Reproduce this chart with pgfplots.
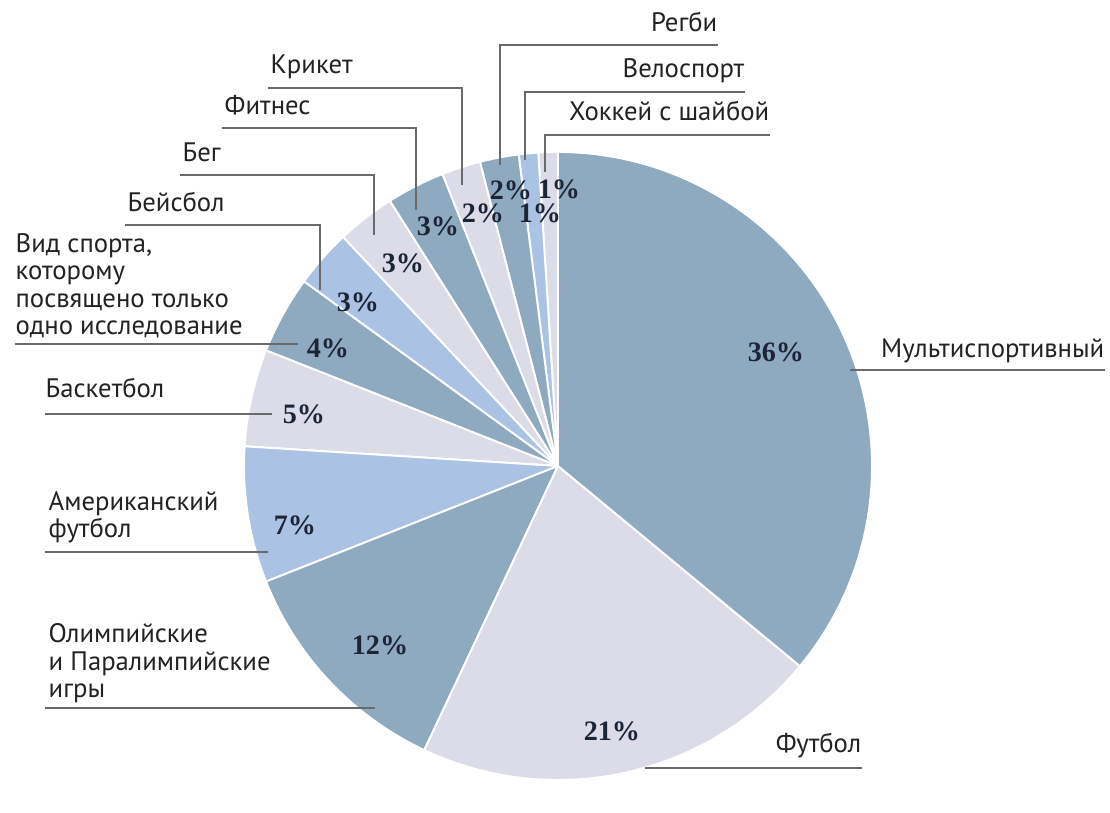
\documentclass[border=0pt]{standalone}
\usepackage{fontspec}
\setmainfont{PT Sans}
\newfontfamily\pctfont{Liberation Serif}
\usepackage{pgfplots}
\pgfplotsset{compat=1.18}
\definecolor{cS}{HTML}{8EAAC0}
\definecolor{cL}{HTML}{DCDCE8}
\definecolor{cB}{HTML}{AAC3E4}
\definecolor{lead}{HTML}{6A6A6A}
\definecolor{txt}{HTML}{222222}
\definecolor{pct}{HTML}{1B2536}
\tikzset{
  lbl/.style={font=\fontsize{7.6}{8}\selectfont, text=txt, inner sep=0pt},
  pc/.style={font=\fontsize{8}{9}\selectfont\pctfont\bfseries, text=pct, inner sep=0pt, anchor=center},
  ld/.style={draw=lead, line width=0.35pt},
}
\begin{document}
\begin{tikzpicture}
\begin{axis}[
  hide axis, scale only axis, width=111mm, height=78.1mm,
  xmin=0, xmax=1110, ymin=0, ymax=781, clip=false,
]
\path (axis cs:0,0) rectangle (axis cs:1110,781);
% pie slices (percent values), counter-clockwise from 12 o'clock
\def\cum{90}
\foreach \v/\c in {1/cL,1/cB,2/cS,2/cL,3/cS,3/cL,3/cB,4/cS,5/cL,7/cB,12/cS,21/cL,36/cS}{
  \pgfmathsetmacro{\a}{\cum}
  \pgfmathsetmacro{\b}{\cum+3.6*\v}
  \edef\temp{\noexpand\fill[\c, draw=white, line width=0.55pt, line join=round] (axis cs:558,315) -- ++(\a:31.4mm) arc[start angle=\a, end angle=\b, radius=31.4mm] -- cycle;}
  \temp
  \xdef\cum{\b}
}
% percent labels
\node[pc] at (axis cs:776,429) {36\%};
\node[pc] at (axis cs:612,50) {21\%};
\node[pc] at (axis cs:380,136) {12\%};
\node[pc] at (axis cs:295,256) {7\%};
\node[pc] at (axis cs:304,367) {5\%};
\node[pc] at (axis cs:328,433) {4\%};
\node[pc] at (axis cs:358,479) {3\%};
\node[pc] at (axis cs:403,518) {3\%};
\node[pc] at (axis cs:438,555) {3\%};
\node[pc] at (axis cs:483,568) {2\%};
\node[pc] at (axis cs:511,591) {2\%};
\node[pc] at (axis cs:540,568) {1\%};
\node[pc] at (axis cs:559,592) {1\%};
% leader lines
\draw[ld] (axis cs:500,616) -- (axis cs:500,736) -- (axis cs:718,736);
\draw[ld] (axis cs:525,621) -- (axis cs:525,689) -- (axis cs:745,689);
\draw[ld] (axis cs:545,609) -- (axis cs:545,646) -- (axis cs:770,646);
\draw[ld] (axis cs:462,596) -- (axis cs:462,693) -- (axis cs:268,693);
\draw[ld] (axis cs:416,571) -- (axis cs:416,653) -- (axis cs:222,653);
\draw[ld] (axis cs:374,546) -- (axis cs:374,606) -- (axis cs:180,606);
\draw[ld] (axis cs:320,491) -- (axis cs:320,556) -- (axis cs:125,556);
\draw[ld] (axis cs:15,437) -- (axis cs:298,437);
\draw[ld] (axis cs:45,367) -- (axis cs:272,367);
\draw[ld] (axis cs:45,229) -- (axis cs:268,229);
\draw[ld] (axis cs:45,73) -- (axis cs:375,73);
\draw[ld] (axis cs:850,411) -- (axis cs:1105,411);
\draw[ld] (axis cs:645,13) -- (axis cs:862,13);
% category labels
\node[lbl, anchor=base east] at (axis cs:718,749) {Регби};
\node[lbl, anchor=base east] at (axis cs:745,703) {Велоспорт};
\node[lbl, anchor=base east] at (axis cs:770,660) {Хоккей с шайбой};
\node[lbl, anchor=base west] at (axis cs:270,707) {Крикет};
\node[lbl, anchor=base west] at (axis cs:224,666) {Фитнес};
\node[lbl, anchor=base west] at (axis cs:182,619) {Бег};
\node[lbl, anchor=base west] at (axis cs:127,569) {Бейсбол};
\node[lbl, anchor=base west] at (axis cs:15,528) {Вид спорта,};
\node[lbl, anchor=base west] at (axis cs:15,501) {которому};
\node[lbl, anchor=base west] at (axis cs:15,473) {посвящено только};
\node[lbl, anchor=base west] at (axis cs:15,446) {одно исследование};
\node[lbl, anchor=base west] at (axis cs:45,383) {Баскетбол};
\node[lbl, anchor=base west] at (axis cs:48,270) {Американский};
\node[lbl, anchor=base west] at (axis cs:48,243) {футбол};
\node[lbl, anchor=base west] at (axis cs:48,138) {Олимпийские};
\node[lbl, anchor=base west] at (axis cs:48,110) {и Паралимпийские};
\node[lbl, anchor=base west] at (axis cs:48,83) {игры};
\node[lbl, anchor=base east] at (axis cs:1105,423) {Мультиспортивный};
\node[lbl, anchor=base east] at (axis cs:862,28) {Футбол};
\end{axis}
\end{tikzpicture}
\end{document}
